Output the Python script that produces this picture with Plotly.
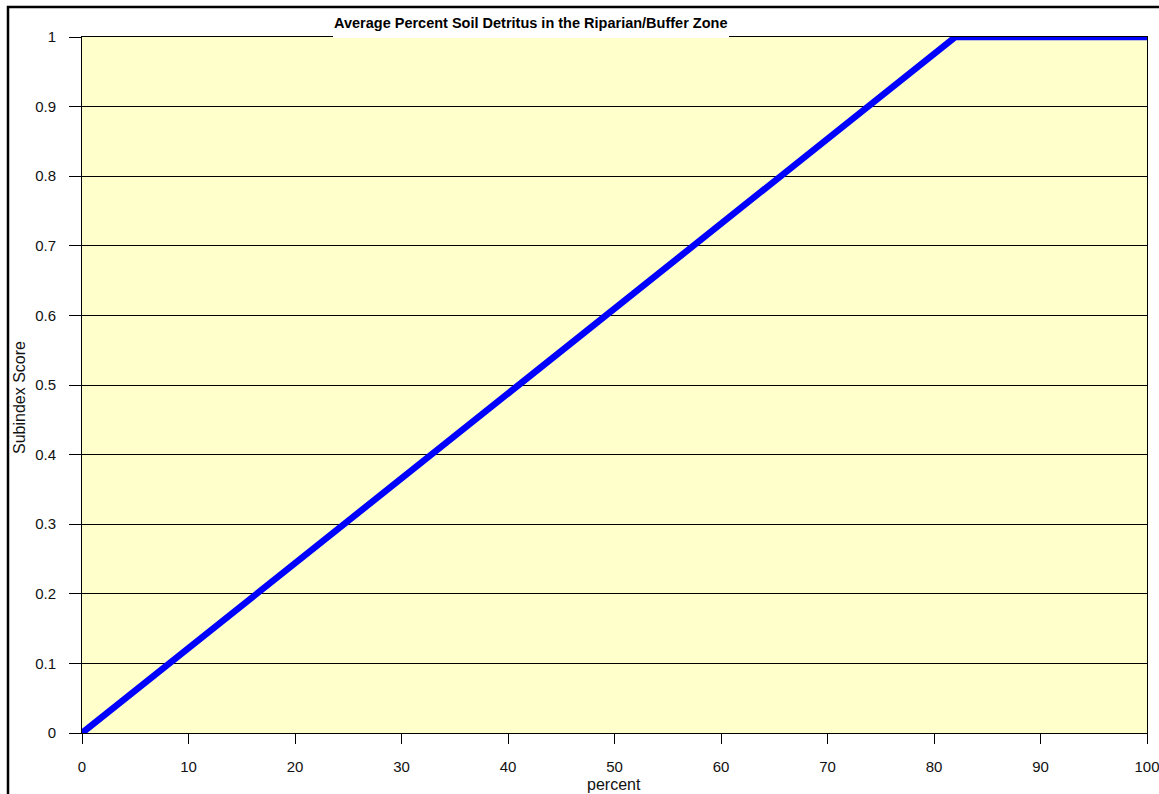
import plotly.graph_objects as go

title_text = "Average Percent Soil Detritus in the Riparian/Buffer Zone"
x_title = "percent"
y_title = "Subindex Score"
x_vals = [0, 82, 100]
y_vals = [0, 1, 1]
x_ticks = [0, 10, 20, 30, 40, 50, 60, 70, 80, 90, 100]
y_ticks = [0, 0.1, 0.2, 0.3, 0.4, 0.5, 0.6, 0.7, 0.8, 0.9, 1]

W, H = 1159, 794
L, R, T, B = 82, 12, 37, 61
PW, PH = W - L - R, H - T - B


def px(x):
    return (x - L) / PW


def py(y):
    return 1 - (y - T) / PH


fig = go.Figure()
fig.add_trace(go.Scatter(
    x=x_vals, y=y_vals, mode="lines",
    line=dict(color="#0000FF", width=6.5),
    cliponaxis=False, hoverinfo="skip", showlegend=False,
))

font = "Liberation Sans, Arial, sans-serif"
fig.update_layout(
    width=W, height=H,
    margin=dict(l=L, r=R, t=T, b=B, autoexpand=False),
    paper_bgcolor="white",
    plot_bgcolor="#FFFFCC",
    font=dict(family=font, size=14, color="#111111"),
    xaxis=dict(
        range=[0, 100], tickvals=x_ticks, ticktext=[str(v) for v in x_ticks],
        showgrid=False, zeroline=False, showline=True, linecolor="black", linewidth=1,
        mirror=True, ticks="outside", ticklen=10, tickcolor="black",
        ticklabelstandoff=10, tickfont=dict(size=15), ticklabeloverflow="allow",
        automargin=False,
    ),
    yaxis=dict(
        range=[0, 1], tickvals=y_ticks, ticktext=[f"{v:g}" for v in y_ticks],
        showgrid=True, gridcolor="black", gridwidth=1, zeroline=False,
        showline=True, linecolor="black", linewidth=1, mirror=True,
        ticks="outside", ticklen=12, tickcolor="black", ticklabelstandoff=10,
        tickfont=dict(size=15), ticklabeloverflow="allow", automargin=False,
    ),
    shapes=[
        dict(type="rect", xref="paper", yref="paper",
             x0=px(333), x1=px(729), y0=py(38), y1=py(12),
             fillcolor="white", line=dict(width=0), layer="above"),
        dict(type="rect", xref="paper", yref="paper",
             x0=px(8), x1=px(1220), y0=py(860), y1=py(7),
             line=dict(color="black", width=2.5), fillcolor="rgba(0,0,0,0)", layer="above"),
    ],
    annotations=[
        dict(text="<b>" + title_text + "</b>", xref="paper", yref="paper",
             x=px(530), y=py(23), xanchor="center", yanchor="middle", showarrow=False,
             font=dict(size=14.5, family=font, color="black")),
        dict(text=y_title, xref="paper", yref="paper", textangle=-90,
             x=px(19), y=py(398), xanchor="center", yanchor="middle", showarrow=False,
             font=dict(size=16, family=font, color="#111111")),
        dict(text=x_title, xref="paper", yref="paper",
             x=px(614), y=py(784), xanchor="center", yanchor="middle", showarrow=False,
             font=dict(size=16, family=font, color="#111111")),
    ],
)

fig.write_html("out.html", config={"displayModeBar": False},
               post_script="document.body.style.margin='0';document.body.style.overflow='hidden';")
